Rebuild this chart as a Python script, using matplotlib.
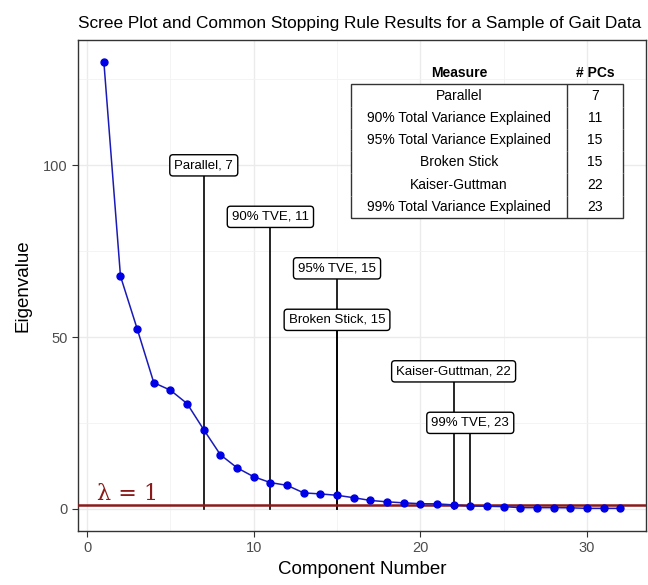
import matplotlib
matplotlib.use("Agg")
import matplotlib.pyplot as plt
from matplotlib.ticker import MultipleLocator

plt.rcParams['font.family'] = ['Liberation Sans', 'DejaVu Sans']

# eigenvalues
components = list(range(1, 33))
eigenvalues = [130.2, 67.7, 52.4, 36.7, 34.5, 30.6, 23.0, 15.7, 11.9, 9.3,
               7.6, 6.8, 4.6, 4.3, 3.9, 3.2, 2.4, 2.0, 1.7, 1.45,
               1.4, 1.1, 0.8, 0.7, 0.6, 0.3, 0.3, 0.3, 0.25, 0.1,
               0.1, 0.1]

# stopping rules: label, number of PCs, height of label
rule_labels = ["Parallel, 7", "90% TVE, 11", "95% TVE, 15",
               "Broken Stick, 15", "Kaiser-Guttman, 22", "99% TVE, 23"]
rule_pcs = [7, 11, 15, 15, 22, 23]
rule_heights = [100, 85, 70, 55, 40, 25]

measures = ["Parallel", "90% Total Variance Explained",
            "95% Total Variance Explained", "Broken Stick",
            "Kaiser-Guttman", "99% Total Variance Explained"]
n_pcs = [7, 11, 15, 15, 22, 23]

fig = plt.figure(figsize=(6.48, 5.85), dpi=100)
ax = fig.add_axes([0.1204, 0.0923, 0.8765, 0.8393])

ax.set_xlim(-0.55, 33.55)
ax.set_ylim(-6.5, 136.5)
ax.xaxis.set_major_locator(MultipleLocator(10))
ax.xaxis.set_minor_locator(MultipleLocator(5))
ax.yaxis.set_major_locator(MultipleLocator(50))
ax.yaxis.set_minor_locator(MultipleLocator(25))
ax.grid(which='major', color='#EBEBEB', lw=1.0, zorder=0)
ax.grid(which='minor', color='#F2F2F2', lw=0.6, zorder=0)
ax.set_axisbelow(True)
for s in ax.spines.values():
    s.set_color('#333333')
    s.set_linewidth(1.0)
ax.tick_params(which='major', length=4, color='#333333', labelcolor='#4D4D4D',
               labelsize=10.5)
ax.tick_params(which='minor', length=0)

# stopping-rule segments and labels
for lab, pc, h in zip(rule_labels, rule_pcs, rule_heights):
    ax.plot([pc, pc], [0, h], color='black', lw=1.2, zorder=3)
    ax.text(pc, h, lab, ha='center', va='center', fontsize=9.5, zorder=6,
            bbox=dict(boxstyle='round,pad=0.35,rounding_size=0.25',
                      fc='white', ec='black', lw=1.0))

ax.axhline(1, color='#8B1A1A', lw=1.8, zorder=4)
ax.text(2.4, 1.0, 'λ = 1', color='#8B1A1A', fontsize=16,
        family='DejaVu Serif', ha='center', va='bottom', zorder=5)

ax.plot(components, eigenvalues, color='#1A1AB8', lw=1.1, zorder=5)
ax.plot(components, eigenvalues, 'o', color='#0000E6', ms=5, zorder=5)

# summary table
cells = [[m, str(n)] for m, n in zip(measures, n_pcs)]
tab = ax.table(cellText=cells, colLabels=["Measure", "# PCs"],
               cellLoc='center', colWidths=[0.794, 0.206],
               bbox=[0.481, 0.6375, 0.4785, 0.3175], zorder=7)
tab.auto_set_font_size(False)
tab.set_fontsize(10)
nrows = len(cells)
for (r, c), cell in tab.get_celld().items():
    cell.set_edgecolor('#333333')
    cell.set_linewidth(1.0)
    cell.set_facecolor('none')
    if r == 0:
        cell.visible_edges = ''
        cell.get_text().set_fontweight('bold')
        continue
    edges = 'LR' if c == 0 else 'R'
    if r == 1:
        edges += 'T'
    if r == nrows:
        edges += 'B'
    cell.visible_edges = edges
body_bg = plt.Rectangle((0.481, 0.6375), 0.4785, 0.3175 * 6 / 7,
                        transform=ax.transAxes, fc='white', ec='none', zorder=6.5)
ax.add_patch(body_bg)

ax.set_xlabel("Component Number", fontsize=13.5, labelpad=4)
ax.set_ylabel("Eigenvalue", fontsize=13.5, labelpad=8)
ax.set_title("Scree Plot and Common Stopping Rule Results for a Sample of Gait Data",
             fontsize=12.4, loc='left', pad=9)

fig.savefig("out.png", dpi=100)
